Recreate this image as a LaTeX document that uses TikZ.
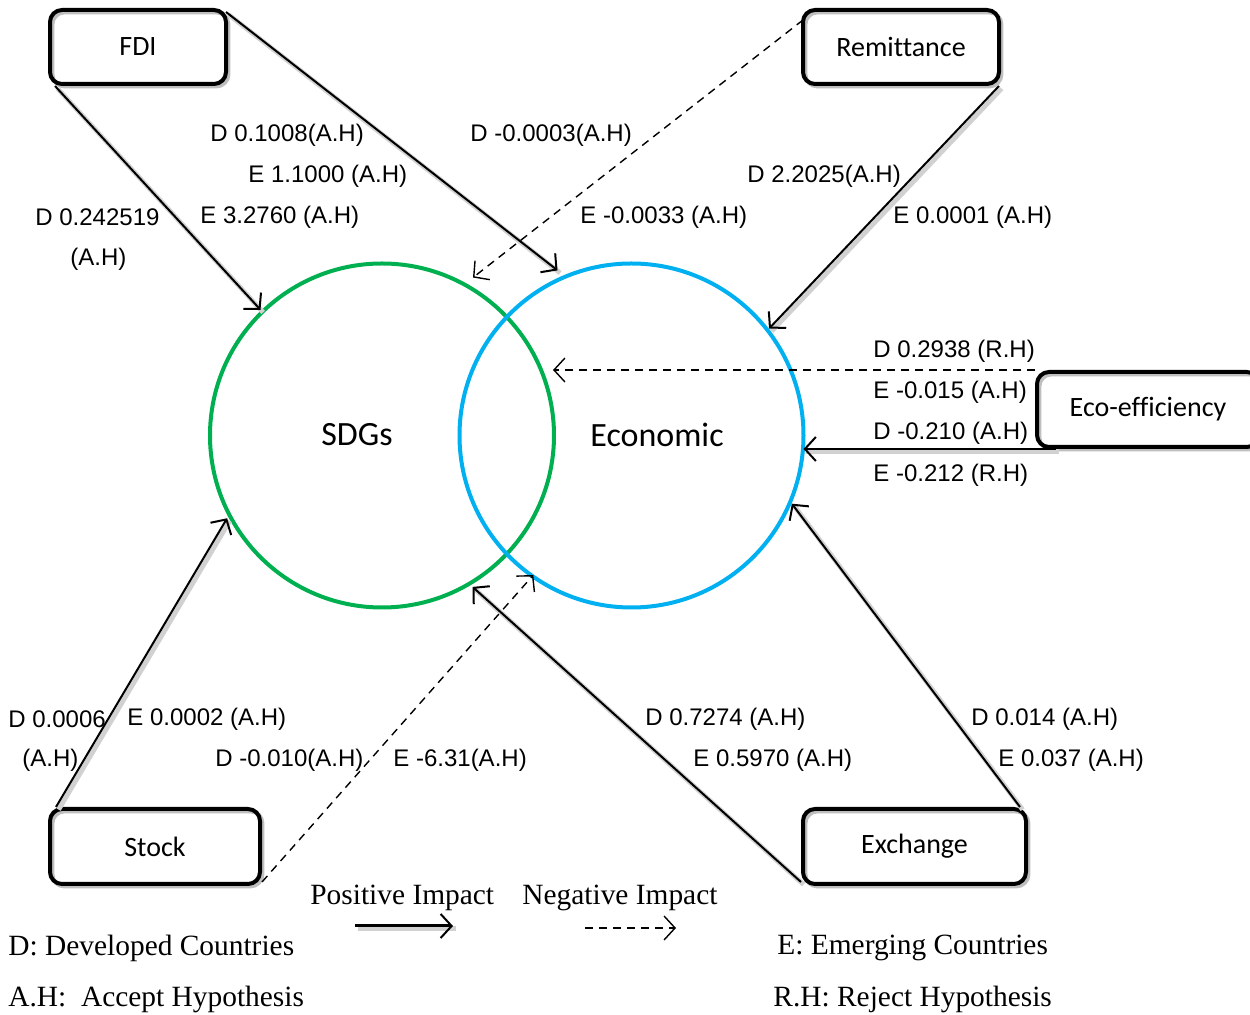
\documentclass[tikz,border=0pt]{standalone}
\usepackage{fontspec}
\setmainfont{Liberation Serif}
\newfontfamily\arialf{Liberation Sans}
\newfontfamily\calf[Ligatures=NoCommon]{Carlito}
\usetikzlibrary{arrows.meta,calc}
\definecolor{sdggreen}{RGB}{0,176,80}
\definecolor{ecoblue}{RGB}{0,176,240}
\begin{document}
\begin{tikzpicture}[x=0.5pt,y=-0.5pt,
  box/.style={draw, line width=2pt, rounded corners=6pt, inner sep=0pt,
    font=\calf\fontsize{14}{16}\selectfont,
    preaction={draw=black!25, line width=2pt, transform canvas={xshift=1.2pt,yshift=-1.2pt}}},
  ring/.style={circle, line width=2pt, inner sep=0pt, outer sep=0pt, minimum size=172pt},
  lbl/.style={inner sep=0pt, anchor=west, font=\arialf\fontsize{12}{14}\selectfont},
  leg/.style={inner sep=0pt, anchor=west, font=\fontsize{14.7}{17}\selectfont},
  big/.style={inner sep=0pt, font=\calf\fontsize{17}{20}\selectfont},
  posarrow/.style={draw, line width=1pt, -{Straight Barb[length=5.5pt,width=12pt,line width=1pt]},
    preaction={draw=black!18, line width=2.4pt, -, transform canvas={xshift=1.3pt,yshift=-1.3pt}}},
  negarrow/.style={draw, line width=0.7pt, dash pattern=on 4pt off 3pt,
    -{Straight Barb[length=5.5pt,width=12pt,line width=0.7pt]}},
]
\useasboundingbox (0,0) rectangle (1250,1015);

% circles
\node[ring, draw=sdggreen] (sdg) at (382,435.5) {};
\node[ring, draw=ecoblue] (eco) at (631.5,435.5) {};
\node[big] (sdgtxt) at (357,435) {SDGs};
\node[big] (ecotxt) at (657,435) {Economic};
\coordinate (sdgE) at ($(sdg.center)+(171,0)$);

% boxes
\node[box, minimum width=88pt, minimum height=37pt] (fdi) at (138,47) {FDI};
\node[box, minimum width=98pt, minimum height=37pt] (rem) at (901,47) {Remittance};
\node[box, minimum width=111pt, minimum height=37.5pt] (ecoeff) at (1148,409.5) {Eco-efficiency};
\node[box, minimum width=105pt, minimum height=37.5pt] (stock) at (155,846.5) {Stock};
\node[box, minimum width=111.5pt, minimum height=37.5pt] (exch) at (914.5,846.5) {Exchange};
\coordinate (ecostart) at ($(ecoeff.south west)+(21,0)$);

% connectors
\draw[posarrow] ($(fdi.south west)+(7,0)$) -- ($(sdg.134)+(-2,-2)$);
\draw[posarrow] ($(fdi.north east)+(-2,4)$) -- ($(eco.114.8)+(-4,-8)$);
\draw[negarrow] ($(rem.north west)+(2,12)$) -- ($(sdg.60.9)+(5,-9)$);
\draw[posarrow] ($(rem.south east)+(-2,0)$) -- ($(eco.38.5)+(2,-1)$);
\draw[negarrow] (ecoeff.north west) -- (ecoeff.north west -| sdgE);
\draw[posarrow] (ecostart) -- (ecostart -| eco.east);
\draw[posarrow] ($(stock.north west)+(8,0)$) -- ($(sdg.208.7)+(-3,2)$);
\draw[negarrow] ($(stock.south east)+(0,-4)$) -- ($(eco.236.3)+(-2,-3)$);
\draw[posarrow] ($(exch.south west)+(0,-4)$) -- ($(sdg.-59.7)+(2,4)$);
\draw[posarrow] ($(exch.north east)+(-8,0)$) -- ($(eco.-23)+(2,1)$);

% labels
\node[lbl] (l1) at (210,135) {D 0.1008(A.H)};
\node[lbl] (l2) at (248,176) {E 1.1000 (A.H)};
\node[lbl] (l3) at (200,217) {E 3.2760 (A.H)};
\node[lbl] (l4) at (35,217) {D 0.242519};
\node[lbl] (l5) at (70,259) {(A.H)};
\node[lbl] (l6) at (470,135) {D -0.0003(A.H)};
\node[lbl] (l7) at (580,217) {E -0.0033 (A.H)};
\node[lbl] (l8) at (747,176) {D 2.2025(A.H)};
\node[lbl] (l9) at (893,217) {E 0.0001 (A.H)};
\node[lbl] (l10) at (873,351) {D 0.2938 (R.H)};
\node[lbl] (l11) at (873,392) {E -0.015 (A.H)};
\node[lbl] (l12) at (873,433) {D -0.210 (A.H)};
\node[lbl] (l13) at (873,475) {E -0.212 (R.H)};
\node[lbl] (l14) at (8,719) {D 0.0006};
\node[lbl] (l15) at (22,760) {(A.H)};
\node[lbl] (l16) at (127,719) {E 0.0002 (A.H)};
\node[lbl] (l17) at (215,760) {D -0.010(A.H)};
\node[lbl] (l18) at (393,760) {E -6.31(A.H)};
\node[lbl] (l19) at (645,719) {D 0.7274 (A.H)};
\node[lbl] (l20) at (693,760) {E 0.5970 (A.H)};
\node[lbl] (l21) at (971,719) {D 0.014 (A.H)};
\node[lbl] (l22) at (998,760) {E 0.037 (A.H)};

% legend
\node[leg] (pos) at (310,898) {Positive Impact};
\node[leg] (neg) at (522,898) {Negative Impact};
\node[leg] (dd) at (8,948) {D: Developed Countries};
\node[leg] (ee) at (777,948) {E: Emerging Countries};
\node[leg] (ah) at (8,999) {A.H:\ \ Accept Hypothesis};
\node[leg] (rh) at (773,999) {R.H: Reject Hypothesis};
\coordinate (p1) at (355,926);
\coordinate (p2) at (453,926);
\coordinate (n1) at (585,928);
\coordinate (n2) at (676,928);
\draw[posarrow, line width=1.5pt] (p1) -- (p2);
\draw[negarrow] (n1) -- (n2);
\end{tikzpicture}
\end{document}
